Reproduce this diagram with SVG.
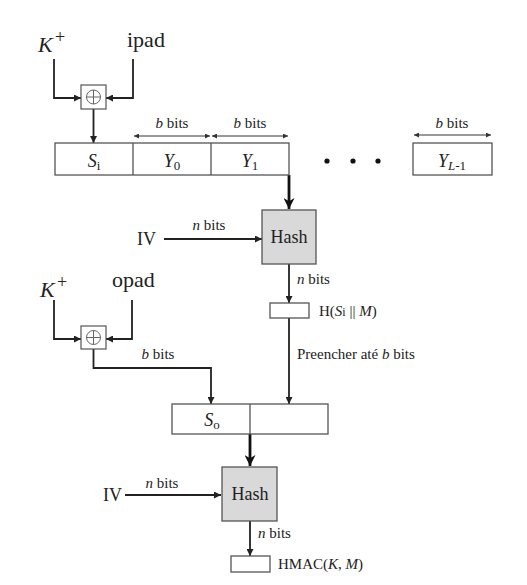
<svg xmlns="http://www.w3.org/2000/svg" width="527" height="585" viewBox="0 0 527 585" font-family="'Liberation Serif', 'Times New Roman', 'DejaVu Serif', serif">
<defs>
<marker id="ah" viewBox="0 0 10 10" refX="10" refY="5" markerWidth="8" markerHeight="7" markerUnits="userSpaceOnUse" orient="auto-start-reverse"><path d="M0,0 L10,5 L0,10 z" fill="#222"/></marker>
<marker id="ahb" viewBox="0 0 10 10" refX="10" refY="5" markerWidth="11" markerHeight="11" markerUnits="userSpaceOnUse" orient="auto"><path d="M0,0 L10,5 L0,10 L3,5 z" fill="#111"/></marker>
<marker id="ahs" viewBox="0 0 10 10" refX="10" refY="5" markerWidth="7" markerHeight="5" markerUnits="userSpaceOnUse" orient="auto-start-reverse"><path d="M0,0 L10,5 L0,10 z" fill="#333"/></marker>
</defs>
<style>
text{font-family:'Liberation Serif','Times New Roman','DejaVu Serif',serif;fill:#222}
.big{font-size:22px}
.mid{font-size:18px}
.sm{font-size:15px}
.it{font-style:italic}
.box{fill:#fff;stroke:#555;stroke-width:1.3}
.hash{fill:#d9d9d9;stroke:#555;stroke-width:1.3}
.ln{fill:none;stroke:#222;stroke-width:1.8;marker-end:url(#ah)}
.thick{fill:none;stroke:#111;stroke-width:2.8;marker-end:url(#ahb)}
.dim{fill:none;stroke:#333;stroke-width:1;marker-start:url(#ahs);marker-end:url(#ahs)}
.xor{fill:#fff;stroke:#555;stroke-width:1.2}
.xc{fill:none;stroke:#666;stroke-width:1}
</style>
<rect width="527" height="585" fill="#fff"/>

<g id="connectors">
<path class="ln" d="M54,59 V98 H81"/>
<path class="ln" d="M133,59 V98 H106"/>
<path class="ln" d="M93.5,109 V143"/>
<path class="thick" d="M289,175 V209"/>
<path class="ln" d="M164,239 H262"/>
<path class="ln" d="M289,264 V303"/>
<path class="ln" d="M289,318 V404"/>
<path class="ln" d="M54,300 V339 H81"/>
<path class="ln" d="M132,300 V339 H106"/>
<path class="ln" d="M93.5,349 V368 H211 V404"/>
<path class="thick" d="M250,434 V466"/>
<path class="ln" d="M125,495 H221"/>
<path class="ln" d="M250,521 V556"/>
<path class="dim" d="M134,136 H210"/>
<path class="dim" d="M212,136 H288"/>
<path class="dim" d="M414,135 H491"/>
</g>

<g id="kplus1"><text class="big it" x="38" y="52">K</text><text class="mid" x="55" y="43">+</text></g>
<g id="ipad"><text class="big" x="127" y="47">ipad</text></g>
<g id="xor1"><rect class="xor" x="81" y="85" width="25" height="24"/><circle class="xc" cx="93.5" cy="97" r="7"/><path class="xc" d="M86.5,97 H100.5 M93.5,90 V104"/></g>

<g id="row1">
<rect class="box" x="55" y="143" width="234" height="32"/>
<path d="M133,143 V175 M211,143 V175" stroke="#555" stroke-width="1.3"/>
<text class="mid" x="94" y="167" text-anchor="middle"><tspan class="it">S</tspan><tspan font-size="13" dy="3">i</tspan></text>
<text class="mid" x="172" y="167" text-anchor="middle"><tspan class="it">Y</tspan><tspan font-size="13" dy="3">0</tspan></text>
<text class="mid" x="250" y="167" text-anchor="middle"><tspan class="it">Y</tspan><tspan font-size="13" dy="3">1</tspan></text>
<text class="sm" x="172" y="128" text-anchor="middle"><tspan class="it">b</tspan> bits</text>
<text class="sm" x="250" y="128" text-anchor="middle"><tspan class="it">b</tspan> bits</text>
</g>
<g id="dots"><circle cx="327" cy="161" r="2.6" fill="#111"/><circle cx="353" cy="161" r="2.6" fill="#111"/><circle cx="378" cy="161" r="2.6" fill="#111"/></g>
<g id="yl1">
<rect class="box" x="413" y="143" width="79" height="32"/>
<text class="mid" x="452" y="167" text-anchor="middle"><tspan class="it">Y</tspan><tspan class="it" font-size="13" dy="3">L</tspan><tspan font-size="13">-1</tspan></text>
<text class="sm" x="452" y="128" text-anchor="middle"><tspan class="it">b</tspan> bits</text>
</g>

<g id="hash1">
<rect class="hash" x="262" y="210" width="54" height="54"/>
<text class="mid" x="289" y="243" text-anchor="middle">Hash</text>
</g>
<g id="iv1"><text class="mid" x="137" y="245">IV</text><text class="sm" x="209" y="230" text-anchor="middle"><tspan class="it">n</tspan> bits</text></g>
<g id="hout1">
<text class="sm" x="297" y="284"><tspan class="it">n</tspan> bits</text>
<rect class="box" x="270" y="303" width="39" height="15"/>
<text class="sm" x="319" y="316">H(<tspan class="it">S</tspan><tspan font-size="12">i</tspan> || <tspan class="it">M</tspan>)</text>
<text class="sm" x="297" y="359">Preencher até <tspan class="it">b</tspan> bits</text>
</g>

<g id="kplus2"><text class="big it" x="40" y="297">K</text><text class="mid" x="57" y="288">+</text></g>
<g id="opad"><text class="big" x="112" y="287">opad</text></g>
<g id="xor2"><rect class="xor" x="81" y="326" width="25" height="23"/><circle class="xc" cx="93.5" cy="337.5" r="7"/><path class="xc" d="M86.5,337.5 H100.5 M93.5,330.5 V344.5"/>
<text class="sm" x="158" y="359" text-anchor="middle"><tspan class="it">b</tspan> bits</text></g>

<g id="row2">
<rect class="box" x="172" y="404" width="156" height="30"/>
<path d="M250,404 V434" stroke="#555" stroke-width="1.3"/>
<text class="mid" x="212" y="426" text-anchor="middle"><tspan class="it">S</tspan><tspan font-size="13" dy="3">o</tspan></text>
</g>

<g id="hash2">
<rect class="hash" x="222" y="467" width="55" height="54"/>
<text class="mid" x="250" y="500" text-anchor="middle">Hash</text>
</g>
<g id="iv2"><text class="mid" x="103" y="501">IV</text><text class="sm" x="162" y="488" text-anchor="middle"><tspan class="it">n</tspan> bits</text></g>
<g id="hmac">
<text class="sm" x="258" y="538"><tspan class="it">n</tspan> bits</text>
<rect class="box" x="231" y="556" width="39" height="16"/>
<text class="sm" x="278" y="569" font-size="16">HMAC(<tspan class="it">K</tspan>, <tspan class="it">M</tspan>)</text>
</g>
</svg>
